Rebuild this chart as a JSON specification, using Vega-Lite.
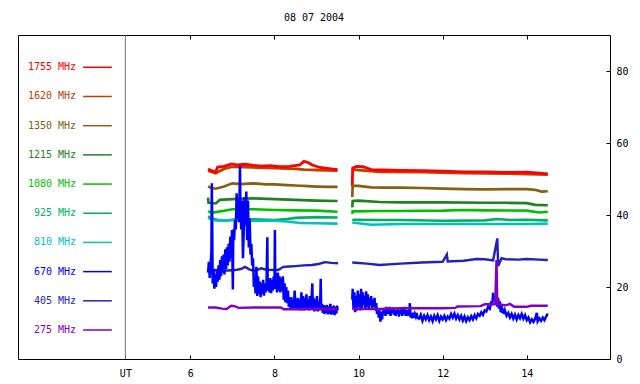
{
"$schema": "https://vega.github.io/schema/vega-lite/v6.json",
"width": 592, "height": 324,
"autosize": {"type": "none"},
"padding": {"left": 18, "top": 35, "right": 30, "bottom": 25},
"background": "white",
"title": {"text": "08 07 2004", "font": "DejaVu Sans Mono", "fontSize": 10, "fontWeight": "normal", "color": "black", "anchor": "middle", "offset": 3.5, "baseline": "alphabetic"},
"config": {"view": {"stroke": "black", "strokeWidth": 1}, "font": "DejaVu Sans Mono"},
"datasets": {
"series": [
{"s":1620,"g":1,"t":6.42,"v":52.3},{"s":1620,"g":1,"t":6.6,"v":51.6},{"s":1620,"g":1,"t":6.8,"v":52.8},{"s":1620,"g":1,"t":7.0,"v":53.4},{"s":1620,"g":1,"t":7.5,"v":53.2},{"s":1620,"g":1,"t":8.0,"v":53.0},{"s":1620,"g":1,"t":8.5,"v":52.8},{"s":1620,"g":1,"t":8.7,"v":52.6},{"s":1620,"g":1,"t":9.0,"v":52.5},{"s":1620,"g":1,"t":9.5,"v":52.3},
{"s":1620,"g":2,"t":9.86,"v":52.6},{"s":1620,"g":2,"t":10.5,"v":52.0},{"s":1620,"g":2,"t":11.5,"v":51.9},{"s":1620,"g":2,"t":12.5,"v":51.6},{"s":1620,"g":2,"t":13.5,"v":51.5},{"s":1620,"g":2,"t":14.5,"v":51.2},
{"s":1755,"g":1,"t":6.42,"v":52.8},{"s":1755,"g":1,"t":6.5,"v":52.3},{"s":1755,"g":1,"t":6.6,"v":52.0},{"s":1755,"g":1,"t":6.65,"v":53.3},{"s":1755,"g":1,"t":6.8,"v":53.5},{"s":1755,"g":1,"t":6.98,"v":54.2},{"s":1755,"g":1,"t":7.1,"v":53.9},{"s":1755,"g":1,"t":7.3,"v":54.1},{"s":1755,"g":1,"t":7.5,"v":53.8},{"s":1755,"g":1,"t":7.7,"v":53.6},{"s":1755,"g":1,"t":7.9,"v":53.7},{"s":1755,"g":1,"t":8.1,"v":53.4},{"s":1755,"g":1,"t":8.37,"v":53.5},{"s":1755,"g":1,"t":8.6,"v":53.9},{"s":1755,"g":1,"t":8.7,"v":54.9},{"s":1755,"g":1,"t":8.8,"v":54.6},{"s":1755,"g":1,"t":8.9,"v":53.9},{"s":1755,"g":1,"t":9.08,"v":53.2},{"s":1755,"g":1,"t":9.3,"v":52.9},{"s":1755,"g":1,"t":9.5,"v":52.6},
{"s":1755,"g":2,"t":9.85,"v":48.0},{"s":1755,"g":2,"t":9.86,"v":53.0},{"s":1755,"g":2,"t":9.95,"v":53.5},{"s":1755,"g":2,"t":10.1,"v":53.4},{"s":1755,"g":2,"t":10.3,"v":52.6},{"s":1755,"g":2,"t":10.6,"v":52.5},{"s":1755,"g":2,"t":11.0,"v":52.4},{"s":1755,"g":2,"t":11.5,"v":52.3},{"s":1755,"g":2,"t":12.0,"v":52.2},{"s":1755,"g":2,"t":12.5,"v":52.0},{"s":1755,"g":2,"t":13.0,"v":52.0},{"s":1755,"g":2,"t":13.5,"v":51.8},{"s":1755,"g":2,"t":14.0,"v":51.9},{"s":1755,"g":2,"t":14.3,"v":51.6},{"s":1755,"g":2,"t":14.5,"v":51.4},
{"s":1350,"g":1,"t":6.42,"v":47.9},{"s":1350,"g":1,"t":6.5,"v":47.5},{"s":1350,"g":1,"t":6.6,"v":47.3},{"s":1350,"g":1,"t":6.8,"v":47.9},{"s":1350,"g":1,"t":7.0,"v":48.8},{"s":1350,"g":1,"t":7.2,"v":48.6},{"s":1350,"g":1,"t":7.5,"v":48.8},{"s":1350,"g":1,"t":7.8,"v":48.5},{"s":1350,"g":1,"t":8.0,"v":48.5},{"s":1350,"g":1,"t":8.3,"v":48.3},{"s":1350,"g":1,"t":8.5,"v":48.2},{"s":1350,"g":1,"t":8.8,"v":48.0},{"s":1350,"g":1,"t":9.0,"v":47.9},{"s":1350,"g":1,"t":9.3,"v":47.8},{"s":1350,"g":1,"t":9.5,"v":47.8},
{"s":1350,"g":2,"t":9.85,"v":45.0},{"s":1350,"g":2,"t":9.86,"v":48.1},{"s":1350,"g":2,"t":10.0,"v":48.1},{"s":1350,"g":2,"t":10.3,"v":47.7},{"s":1350,"g":2,"t":10.6,"v":47.6},{"s":1350,"g":2,"t":11.0,"v":47.6},{"s":1350,"g":2,"t":11.5,"v":47.5},{"s":1350,"g":2,"t":12.0,"v":47.3},{"s":1350,"g":2,"t":12.5,"v":47.2},{"s":1350,"g":2,"t":13.0,"v":47.1},{"s":1350,"g":2,"t":13.5,"v":47.2},{"s":1350,"g":2,"t":14.0,"v":47.2},{"s":1350,"g":2,"t":14.2,"v":47.0},{"s":1350,"g":2,"t":14.35,"v":46.5},{"s":1350,"g":2,"t":14.5,"v":46.6},
{"s":1215,"g":1,"t":6.42,"v":44.8},{"s":1215,"g":1,"t":6.43,"v":43.4},{"s":1215,"g":1,"t":6.6,"v":43.2},{"s":1215,"g":1,"t":6.7,"v":44.2},{"s":1215,"g":1,"t":7.0,"v":44.4},{"s":1215,"g":1,"t":7.5,"v":44.6},{"s":1215,"g":1,"t":8.0,"v":44.4},{"s":1215,"g":1,"t":8.5,"v":44.2},{"s":1215,"g":1,"t":9.0,"v":44.0},{"s":1215,"g":1,"t":9.5,"v":43.9},
{"s":1215,"g":2,"t":9.85,"v":42.1},{"s":1215,"g":2,"t":9.86,"v":43.9},{"s":1215,"g":2,"t":10.0,"v":44.0},{"s":1215,"g":2,"t":10.5,"v":43.6},{"s":1215,"g":2,"t":11.0,"v":43.5},{"s":1215,"g":2,"t":12.0,"v":43.5},{"s":1215,"g":2,"t":13.0,"v":43.4},{"s":1215,"g":2,"t":13.5,"v":43.4},{"s":1215,"g":2,"t":14.0,"v":43.3},{"s":1215,"g":2,"t":14.2,"v":42.8},{"s":1215,"g":2,"t":14.5,"v":42.7},
{"s":1080,"g":1,"t":6.42,"v":41.1},{"s":1080,"g":1,"t":6.5,"v":40.6},{"s":1080,"g":1,"t":6.6,"v":40.8},{"s":1080,"g":1,"t":6.8,"v":41.2},{"s":1080,"g":1,"t":7.0,"v":41.6},{"s":1080,"g":1,"t":7.5,"v":41.6},{"s":1080,"g":1,"t":8.0,"v":41.4},{"s":1080,"g":1,"t":8.5,"v":41.3},{"s":1080,"g":1,"t":9.0,"v":41.2},{"s":1080,"g":1,"t":9.5,"v":40.9},
{"s":1080,"g":2,"t":9.85,"v":40.3},{"s":1080,"g":2,"t":9.86,"v":41.0},{"s":1080,"g":2,"t":10.5,"v":41.1},{"s":1080,"g":2,"t":11.0,"v":41.1},{"s":1080,"g":2,"t":12.0,"v":41.2},{"s":1080,"g":2,"t":12.5,"v":41.4},{"s":1080,"g":2,"t":13.0,"v":41.3},{"s":1080,"g":2,"t":14.0,"v":41.2},{"s":1080,"g":2,"t":14.3,"v":40.7},{"s":1080,"g":2,"t":14.5,"v":40.9},
{"s":925,"g":1,"t":6.42,"v":39.6},{"s":925,"g":1,"t":6.5,"v":39.1},{"s":925,"g":1,"t":6.7,"v":38.5},{"s":925,"g":1,"t":6.9,"v":38.5},{"s":925,"g":1,"t":7.0,"v":38.7},{"s":925,"g":1,"t":7.5,"v":38.8},{"s":925,"g":1,"t":8.0,"v":38.6},{"s":925,"g":1,"t":8.3,"v":38.9},{"s":925,"g":1,"t":8.5,"v":39.2},{"s":925,"g":1,"t":9.0,"v":39.4},{"s":925,"g":1,"t":9.5,"v":39.3},
{"s":925,"g":2,"t":9.85,"v":38.7},{"s":925,"g":2,"t":10.5,"v":38.6},{"s":925,"g":2,"t":11.0,"v":38.6},{"s":925,"g":2,"t":12.0,"v":38.4},{"s":925,"g":2,"t":13.0,"v":38.5},{"s":925,"g":2,"t":13.3,"v":38.9},{"s":925,"g":2,"t":13.6,"v":38.6},{"s":925,"g":2,"t":14.0,"v":38.7},{"s":925,"g":2,"t":14.5,"v":38.5},
{"s":810,"g":1,"t":6.42,"v":39.2},{"s":810,"g":1,"t":6.5,"v":38.8},{"s":810,"g":1,"t":6.6,"v":38.5},{"s":810,"g":1,"t":7.0,"v":38.6},{"s":810,"g":1,"t":7.5,"v":38.4},{"s":810,"g":1,"t":8.0,"v":38.4},{"s":810,"g":1,"t":8.3,"v":38.2},{"s":810,"g":1,"t":8.6,"v":37.8},{"s":810,"g":1,"t":9.0,"v":37.7},{"s":810,"g":1,"t":9.5,"v":37.6},
{"s":810,"g":2,"t":9.85,"v":37.9},{"s":810,"g":2,"t":10.3,"v":37.3},{"s":810,"g":2,"t":11.0,"v":37.5},{"s":810,"g":2,"t":12.0,"v":37.5},{"s":810,"g":2,"t":13.0,"v":37.5},{"s":810,"g":2,"t":14.0,"v":37.5},{"s":810,"g":2,"t":14.5,"v":37.6},
{"s":405,"g":1,"t":6.42,"v":24.3},{"s":405,"g":1,"t":6.5,"v":24.6},{"s":405,"g":1,"t":6.58,"v":24.7},{"s":405,"g":1,"t":6.8,"v":24.5},{"s":405,"g":1,"t":7.06,"v":24.7},{"s":405,"g":1,"t":7.2,"v":25.0},{"s":405,"g":1,"t":7.3,"v":25.6},{"s":405,"g":1,"t":7.4,"v":24.9},{"s":405,"g":1,"t":7.5,"v":24.5},{"s":405,"g":1,"t":7.6,"v":24.8},{"s":405,"g":1,"t":7.69,"v":25.2},{"s":405,"g":1,"t":7.8,"v":24.8},{"s":405,"g":1,"t":8.09,"v":24.7},{"s":405,"g":1,"t":8.21,"v":25.6},{"s":405,"g":1,"t":8.35,"v":25.7},{"s":405,"g":1,"t":8.49,"v":25.8},{"s":405,"g":1,"t":8.7,"v":26.0},{"s":405,"g":1,"t":8.89,"v":26.1},{"s":405,"g":1,"t":9.05,"v":26.4},{"s":405,"g":1,"t":9.2,"v":26.9},{"s":405,"g":1,"t":9.35,"v":26.7},{"s":405,"g":1,"t":9.51,"v":26.6},
{"s":405,"g":2,"t":9.85,"v":26.8},{"s":405,"g":2,"t":10.2,"v":26.5},{"s":405,"g":2,"t":10.5,"v":26.1},{"s":405,"g":2,"t":11.0,"v":26.5},{"s":405,"g":2,"t":11.5,"v":26.8},{"s":405,"g":2,"t":12.0,"v":27.0},{"s":405,"g":2,"t":12.1,"v":29.0},{"s":405,"g":2,"t":12.12,"v":27.1},{"s":405,"g":2,"t":12.5,"v":27.3},{"s":405,"g":2,"t":12.8,"v":27.8},{"s":405,"g":2,"t":13.0,"v":27.7},{"s":405,"g":2,"t":13.2,"v":27.4},{"s":405,"g":2,"t":13.3,"v":33.5},{"s":405,"g":2,"t":13.32,"v":25.8},{"s":405,"g":2,"t":13.4,"v":28.0},{"s":405,"g":2,"t":13.5,"v":27.7},{"s":405,"g":2,"t":13.8,"v":27.6},{"s":405,"g":2,"t":14.0,"v":27.8},{"s":405,"g":2,"t":14.3,"v":27.6},{"s":405,"g":2,"t":14.5,"v":27.5},
{"s":670,"g":1,"t":6.42,"v":24},{"s":670,"g":1,"t":6.44,"v":27},{"s":670,"g":1,"t":6.46,"v":22.5},{"s":670,"g":1,"t":6.48,"v":26},{"s":670,"g":1,"t":6.5,"v":30},{"s":670,"g":1,"t":6.51,"v":48.8},{"s":670,"g":1,"t":6.52,"v":36},{"s":670,"g":1,"t":6.53,"v":21},{"s":670,"g":1,"t":6.55,"v":25},{"s":670,"g":1,"t":6.57,"v":19.5},{"s":670,"g":1,"t":6.59,"v":23.5},{"s":670,"g":1,"t":6.61,"v":20},{"s":670,"g":1,"t":6.63,"v":24.5},{"s":670,"g":1,"t":6.65,"v":21.5},{"s":670,"g":1,"t":6.67,"v":26},{"s":670,"g":1,"t":6.69,"v":22},{"s":670,"g":1,"t":6.71,"v":27.5},{"s":670,"g":1,"t":6.73,"v":23},{"s":670,"g":1,"t":6.75,"v":28.5},{"s":670,"g":1,"t":6.77,"v":24},{"s":670,"g":1,"t":6.79,"v":29},{"s":670,"g":1,"t":6.81,"v":23.5},{"s":670,"g":1,"t":6.83,"v":30.5},{"s":670,"g":1,"t":6.85,"v":25},{"s":670,"g":1,"t":6.87,"v":31},{"s":670,"g":1,"t":6.89,"v":26},{"s":670,"g":1,"t":6.91,"v":32},{"s":670,"g":1,"t":6.93,"v":27},{"s":670,"g":1,"t":6.95,"v":34},{"s":670,"g":1,"t":6.97,"v":28},{"s":670,"g":1,"t":6.99,"v":35.8},{"s":670,"g":1,"t":7.01,"v":19.3},{"s":670,"g":1,"t":7.02,"v":36},{"s":670,"g":1,"t":7.04,"v":33},{"s":670,"g":1,"t":7.06,"v":38.6},{"s":670,"g":1,"t":7.08,"v":36},{"s":670,"g":1,"t":7.1,"v":46},{"s":670,"g":1,"t":7.12,"v":39},{"s":670,"g":1,"t":7.14,"v":44},{"s":670,"g":1,"t":7.16,"v":38},{"s":670,"g":1,"t":7.18,"v":53.6},{"s":670,"g":1,"t":7.19,"v":42},{"s":670,"g":1,"t":7.21,"v":36},{"s":670,"g":1,"t":7.23,"v":44},{"s":670,"g":1,"t":7.25,"v":28},{"s":670,"g":1,"t":7.27,"v":36},{"s":670,"g":1,"t":7.29,"v":45},{"s":670,"g":1,"t":7.31,"v":37},{"s":670,"g":1,"t":7.33,"v":46.5},{"s":670,"g":1,"t":7.35,"v":33},{"s":670,"g":1,"t":7.37,"v":44},{"s":670,"g":1,"t":7.39,"v":31},{"s":670,"g":1,"t":7.41,"v":39},{"s":670,"g":1,"t":7.43,"v":29},{"s":670,"g":1,"t":7.45,"v":32},{"s":670,"g":1,"t":7.47,"v":26},{"s":670,"g":1,"t":7.49,"v":28},{"s":670,"g":1,"t":7.51,"v":20},{"s":670,"g":1,"t":7.53,"v":22.5},{"s":670,"g":1,"t":7.55,"v":18.2},{"s":670,"g":1,"t":7.57,"v":25.6},{"s":670,"g":1,"t":7.59,"v":17.5},{"s":670,"g":1,"t":7.61,"v":23},{"s":670,"g":1,"t":7.63,"v":18},{"s":670,"g":1,"t":7.65,"v":21.5},{"s":670,"g":1,"t":7.67,"v":17.2},{"s":670,"g":1,"t":7.69,"v":21},{"s":670,"g":1,"t":7.71,"v":18},{"s":670,"g":1,"t":7.73,"v":22},{"s":670,"g":1,"t":7.75,"v":17.6},{"s":670,"g":1,"t":7.77,"v":21},{"s":670,"g":1,"t":7.79,"v":18.5},{"s":670,"g":1,"t":7.81,"v":20.5},{"s":670,"g":1,"t":7.83,"v":33.8},{"s":670,"g":1,"t":7.84,"v":19},{"s":670,"g":1,"t":7.86,"v":21.5},{"s":670,"g":1,"t":7.88,"v":18.5},{"s":670,"g":1,"t":7.9,"v":22.5},{"s":670,"g":1,"t":7.92,"v":18.3},{"s":670,"g":1,"t":7.94,"v":22},{"s":670,"g":1,"t":7.96,"v":19},{"s":670,"g":1,"t":7.98,"v":22.9},{"s":670,"g":1,"t":8.0,"v":19.5},{"s":670,"g":1,"t":8.01,"v":35.8},{"s":670,"g":1,"t":8.02,"v":20},{"s":670,"g":1,"t":8.04,"v":23.5},{"s":670,"g":1,"t":8.06,"v":18.5},{"s":670,"g":1,"t":8.08,"v":24},{"s":670,"g":1,"t":8.1,"v":19},{"s":670,"g":1,"t":8.12,"v":23},{"s":670,"g":1,"t":8.14,"v":18.5},{"s":670,"g":1,"t":8.16,"v":22.5},{"s":670,"g":1,"t":8.18,"v":19},{"s":670,"g":1,"t":8.2,"v":23},{"s":670,"g":1,"t":8.22,"v":16.5},{"s":670,"g":1,"t":8.24,"v":21},{"s":670,"g":1,"t":8.26,"v":15.8},{"s":670,"g":1,"t":8.28,"v":20},{"s":670,"g":1,"t":8.3,"v":15.5},{"s":670,"g":1,"t":8.32,"v":19},{"s":670,"g":1,"t":8.34,"v":14.5},{"s":670,"g":1,"t":8.36,"v":17},{"s":670,"g":1,"t":8.38,"v":14},{"s":670,"g":1,"t":8.4,"v":17.2},{"s":670,"g":1,"t":8.42,"v":13.8},{"s":670,"g":1,"t":8.44,"v":16.5},{"s":670,"g":1,"t":8.46,"v":14.2},{"s":670,"g":1,"t":8.48,"v":19},{"s":670,"g":1,"t":8.5,"v":14},{"s":670,"g":1,"t":8.52,"v":16.8},{"s":670,"g":1,"t":8.54,"v":13.8},{"s":670,"g":1,"t":8.56,"v":17},{"s":670,"g":1,"t":8.58,"v":14.2},{"s":670,"g":1,"t":8.6,"v":16.5},{"s":670,"g":1,"t":8.62,"v":13.5},{"s":670,"g":1,"t":8.64,"v":18.5},{"s":670,"g":1,"t":8.66,"v":14},{"s":670,"g":1,"t":8.68,"v":17.5},{"s":670,"g":1,"t":8.7,"v":13.5},{"s":670,"g":1,"t":8.72,"v":17},{"s":670,"g":1,"t":8.74,"v":14},{"s":670,"g":1,"t":8.76,"v":18},{"s":670,"g":1,"t":8.78,"v":13.8},{"s":670,"g":1,"t":8.8,"v":16.5},{"s":670,"g":1,"t":8.82,"v":13.5},{"s":670,"g":1,"t":8.84,"v":17.5},{"s":670,"g":1,"t":8.86,"v":14},{"s":670,"g":1,"t":8.88,"v":16},{"s":670,"g":1,"t":8.9,"v":21},{"s":670,"g":1,"t":8.91,"v":14},{"s":670,"g":1,"t":8.93,"v":17},{"s":670,"g":1,"t":8.95,"v":13.2},{"s":670,"g":1,"t":8.97,"v":16.5},{"s":670,"g":1,"t":8.99,"v":13.5},{"s":670,"g":1,"t":9.01,"v":17.5},{"s":670,"g":1,"t":9.03,"v":13.2},{"s":670,"g":1,"t":9.05,"v":16},{"s":670,"g":1,"t":9.07,"v":13.5},{"s":670,"g":1,"t":9.09,"v":17},{"s":670,"g":1,"t":9.1,"v":22.3},{"s":670,"g":1,"t":9.11,"v":14},{"s":670,"g":1,"t":9.13,"v":15.3},{"s":670,"g":1,"t":9.15,"v":12.8},{"s":670,"g":1,"t":9.17,"v":15},{"s":670,"g":1,"t":9.19,"v":12.5},{"s":670,"g":1,"t":9.21,"v":14.8},{"s":670,"g":1,"t":9.23,"v":12.8},{"s":670,"g":1,"t":9.25,"v":15},{"s":670,"g":1,"t":9.27,"v":12.4},{"s":670,"g":1,"t":9.29,"v":14.5},{"s":670,"g":1,"t":9.31,"v":12.6},{"s":670,"g":1,"t":9.33,"v":15.3},{"s":670,"g":1,"t":9.35,"v":12.3},{"s":670,"g":1,"t":9.37,"v":14.5},{"s":670,"g":1,"t":9.39,"v":12.5},{"s":670,"g":1,"t":9.41,"v":14.8},{"s":670,"g":1,"t":9.43,"v":12.2},{"s":670,"g":1,"t":9.45,"v":14.5},{"s":670,"g":1,"t":9.47,"v":12.6},{"s":670,"g":1,"t":9.49,"v":14.8},{"s":670,"g":1,"t":9.5,"v":13.5},
{"s":670,"g":2,"t":9.85,"v":16.5},{"s":670,"g":2,"t":9.86,"v":19.5},{"s":670,"g":2,"t":9.88,"v":14},{"s":670,"g":2,"t":9.9,"v":18.5},{"s":670,"g":2,"t":9.92,"v":13},{"s":670,"g":2,"t":9.94,"v":17.5},{"s":670,"g":2,"t":9.96,"v":13.5},{"s":670,"g":2,"t":9.98,"v":19},{"s":670,"g":2,"t":10.0,"v":14.5},{"s":670,"g":2,"t":10.02,"v":18},{"s":670,"g":2,"t":10.04,"v":13.5},{"s":670,"g":2,"t":10.06,"v":19.5},{"s":670,"g":2,"t":10.08,"v":14},{"s":670,"g":2,"t":10.1,"v":18.5},{"s":670,"g":2,"t":10.12,"v":15},{"s":670,"g":2,"t":10.14,"v":17.5},{"s":670,"g":2,"t":10.16,"v":14},{"s":670,"g":2,"t":10.18,"v":18.8},{"s":670,"g":2,"t":10.2,"v":14.5},{"s":670,"g":2,"t":10.22,"v":18},{"s":670,"g":2,"t":10.24,"v":14},{"s":670,"g":2,"t":10.26,"v":17},{"s":670,"g":2,"t":10.28,"v":15},{"s":670,"g":2,"t":10.3,"v":17.5},{"s":670,"g":2,"t":10.32,"v":14},{"s":670,"g":2,"t":10.34,"v":16.5},{"s":670,"g":2,"t":10.36,"v":14.5},{"s":670,"g":2,"t":10.38,"v":17},{"s":670,"g":2,"t":10.4,"v":13.5},{"s":670,"g":2,"t":10.42,"v":15.5},{"s":670,"g":2,"t":10.44,"v":12.5},{"s":670,"g":2,"t":10.46,"v":14},{"s":670,"g":2,"t":10.48,"v":11.5},{"s":670,"g":2,"t":10.5,"v":13.5},{"s":670,"g":2,"t":10.52,"v":10.4},{"s":670,"g":2,"t":10.54,"v":13},{"s":670,"g":2,"t":10.56,"v":11},{"s":670,"g":2,"t":10.58,"v":13.5},{"s":670,"g":2,"t":10.6,"v":12.5},{"s":670,"g":2,"t":10.62,"v":14},{"s":670,"g":2,"t":10.64,"v":12},{"s":670,"g":2,"t":10.66,"v":14.5},{"s":670,"g":2,"t":10.68,"v":12.5},{"s":670,"g":2,"t":10.7,"v":14},{"s":670,"g":2,"t":10.72,"v":12.5},{"s":670,"g":2,"t":10.74,"v":14.5},{"s":670,"g":2,"t":10.76,"v":12},{"s":670,"g":2,"t":10.78,"v":14},{"s":670,"g":2,"t":10.8,"v":12.8},{"s":670,"g":2,"t":10.82,"v":14.3},{"s":670,"g":2,"t":10.84,"v":12.3},{"s":670,"g":2,"t":10.86,"v":13.8},{"s":670,"g":2,"t":10.88,"v":12},{"s":670,"g":2,"t":10.9,"v":13.5},{"s":670,"g":2,"t":10.92,"v":12.5},{"s":670,"g":2,"t":10.94,"v":14},{"s":670,"g":2,"t":10.96,"v":11.8},{"s":670,"g":2,"t":10.98,"v":13.5},{"s":670,"g":2,"t":11.0,"v":12.5},{"s":670,"g":2,"t":11.02,"v":13.8},{"s":670,"g":2,"t":11.04,"v":12},{"s":670,"g":2,"t":11.06,"v":14},{"s":670,"g":2,"t":11.08,"v":12.5},{"s":670,"g":2,"t":11.1,"v":14.5},{"s":670,"g":2,"t":11.12,"v":12},{"s":670,"g":2,"t":11.14,"v":13.5},{"s":670,"g":2,"t":11.16,"v":12.8},{"s":670,"g":2,"t":11.18,"v":13.5},{"s":670,"g":2,"t":11.2,"v":12},{"s":670,"g":2,"t":11.22,"v":15.5},{"s":670,"g":2,"t":11.24,"v":11.5},{"s":670,"g":2,"t":11.26,"v":12.8},{"s":670,"g":2,"t":11.28,"v":11.3},{"s":670,"g":2,"t":11.3,"v":12.9},{"s":670,"g":2,"t":11.32,"v":11.5},{"s":670,"g":2,"t":11.34,"v":12.5},{"s":670,"g":2,"t":11.36,"v":11.8},{"s":670,"g":2,"t":11.38,"v":12.8},{"s":670,"g":2,"t":11.4,"v":11.5},{"s":670,"g":2,"t":11.44,"v":11.2},{"s":670,"g":2,"t":11.48,"v":12.3},{"s":670,"g":2,"t":11.52,"v":10.6},{"s":670,"g":2,"t":11.56,"v":12},{"s":670,"g":2,"t":11.6,"v":11},{"s":670,"g":2,"t":11.64,"v":12.2},{"s":670,"g":2,"t":11.68,"v":10.8},{"s":670,"g":2,"t":11.72,"v":11.8},{"s":670,"g":2,"t":11.76,"v":10.5},{"s":670,"g":2,"t":11.8,"v":12},{"s":670,"g":2,"t":11.84,"v":11},{"s":670,"g":2,"t":11.88,"v":12.2},{"s":670,"g":2,"t":11.92,"v":10.6},{"s":670,"g":2,"t":11.96,"v":11.8},{"s":670,"g":2,"t":12.0,"v":11},{"s":670,"g":2,"t":12.04,"v":12},{"s":670,"g":2,"t":12.08,"v":10.8},{"s":670,"g":2,"t":12.12,"v":11.8},{"s":670,"g":2,"t":12.16,"v":11.2},{"s":670,"g":2,"t":12.2,"v":12.5},{"s":670,"g":2,"t":12.24,"v":11.5},{"s":670,"g":2,"t":12.28,"v":12.6},{"s":670,"g":2,"t":12.32,"v":11.2},{"s":670,"g":2,"t":12.36,"v":12.2},{"s":670,"g":2,"t":12.4,"v":11},{"s":670,"g":2,"t":12.44,"v":12},{"s":670,"g":2,"t":12.48,"v":10.7},{"s":670,"g":2,"t":12.52,"v":11.8},{"s":670,"g":2,"t":12.56,"v":10.5},{"s":670,"g":2,"t":12.6,"v":11.6},{"s":670,"g":2,"t":12.64,"v":10.8},{"s":670,"g":2,"t":12.68,"v":11.9},{"s":670,"g":2,"t":12.72,"v":11},{"s":670,"g":2,"t":12.76,"v":12.2},{"s":670,"g":2,"t":12.8,"v":11.3},{"s":670,"g":2,"t":12.84,"v":12.5},{"s":670,"g":2,"t":12.88,"v":12},{"s":670,"g":2,"t":12.92,"v":13},{"s":670,"g":2,"t":12.96,"v":12.3},{"s":670,"g":2,"t":13.0,"v":13.5},{"s":670,"g":2,"t":13.04,"v":13.2},{"s":670,"g":2,"t":13.08,"v":14.5},{"s":670,"g":2,"t":13.12,"v":14},{"s":670,"g":2,"t":13.16,"v":16},{"s":670,"g":2,"t":13.18,"v":15},{"s":670,"g":2,"t":13.2,"v":18.4},{"s":670,"g":2,"t":13.22,"v":16},{"s":670,"g":2,"t":13.24,"v":17.5},{"s":670,"g":2,"t":13.26,"v":15},{"s":670,"g":2,"t":13.28,"v":18.6},{"s":670,"g":2,"t":13.3,"v":14.5},{"s":670,"g":2,"t":13.32,"v":17},{"s":670,"g":2,"t":13.34,"v":14},{"s":670,"g":2,"t":13.36,"v":16},{"s":670,"g":2,"t":13.38,"v":13},{"s":670,"g":2,"t":13.4,"v":15},{"s":670,"g":2,"t":13.42,"v":12.8},{"s":670,"g":2,"t":13.44,"v":14},{"s":670,"g":2,"t":13.46,"v":12.5},{"s":670,"g":2,"t":13.48,"v":13.5},{"s":670,"g":2,"t":13.52,"v":12},{"s":670,"g":2,"t":13.56,"v":12.8},{"s":670,"g":2,"t":13.6,"v":11.5},{"s":670,"g":2,"t":13.64,"v":12.5},{"s":670,"g":2,"t":13.68,"v":11.2},{"s":670,"g":2,"t":13.72,"v":12.3},{"s":670,"g":2,"t":13.76,"v":11},{"s":670,"g":2,"t":13.8,"v":12.2},{"s":670,"g":2,"t":13.84,"v":11.3},{"s":670,"g":2,"t":13.88,"v":12.5},{"s":670,"g":2,"t":13.92,"v":11.2},{"s":670,"g":2,"t":13.96,"v":12.2},{"s":670,"g":2,"t":14.0,"v":10.8},{"s":670,"g":2,"t":14.04,"v":11.5},{"s":670,"g":2,"t":14.08,"v":10.2},{"s":670,"g":2,"t":14.12,"v":11},{"s":670,"g":2,"t":14.16,"v":10.3},{"s":670,"g":2,"t":14.2,"v":11.2},{"s":670,"g":2,"t":14.24,"v":12.8},{"s":670,"g":2,"t":14.26,"v":10.5},{"s":670,"g":2,"t":14.3,"v":11.3},{"s":670,"g":2,"t":14.34,"v":10.6},{"s":670,"g":2,"t":14.38,"v":11.5},{"s":670,"g":2,"t":14.42,"v":10.8},{"s":670,"g":2,"t":14.46,"v":11.8},{"s":670,"g":2,"t":14.5,"v":12.6},
{"s":275,"g":1,"t":6.42,"v":14.3},{"s":275,"g":1,"t":6.6,"v":14.3},{"s":275,"g":1,"t":6.75,"v":14.0},{"s":275,"g":1,"t":6.86,"v":13.9},{"s":275,"g":1,"t":6.97,"v":14.8},{"s":275,"g":1,"t":7.05,"v":14.7},{"s":275,"g":1,"t":7.15,"v":14.2},{"s":275,"g":1,"t":7.5,"v":14.3},{"s":275,"g":1,"t":7.9,"v":14.3},{"s":275,"g":1,"t":8.15,"v":14.3},{"s":275,"g":1,"t":8.22,"v":13.8},{"s":275,"g":1,"t":8.6,"v":13.8},{"s":275,"g":1,"t":9.0,"v":13.9},{"s":275,"g":1,"t":9.5,"v":13.9},
{"s":275,"g":2,"t":9.85,"v":13.9},{"s":275,"g":2,"t":10.5,"v":13.9},{"s":275,"g":2,"t":11.0,"v":14.1},{"s":275,"g":2,"t":12.0,"v":14.1},{"s":275,"g":2,"t":12.3,"v":14.2},{"s":275,"g":2,"t":12.35,"v":14.6},{"s":275,"g":2,"t":12.9,"v":14.7},{"s":275,"g":2,"t":13.0,"v":15.2},{"s":275,"g":2,"t":13.25,"v":15.2},{"s":275,"g":2,"t":13.28,"v":27.5},{"s":275,"g":2,"t":13.3,"v":15.3},{"s":275,"g":2,"t":13.5,"v":14.9},{"s":275,"g":2,"t":13.6,"v":15.3},{"s":275,"g":2,"t":13.7,"v":14.5},{"s":275,"g":2,"t":14.0,"v":14.5},{"s":275,"g":2,"t":14.1,"v":14.8},{"s":275,"g":2,"t":14.5,"v":14.8}
],
"legend": [
{"s":1755,"label":"1755 MHz"},{"s":1620,"label":"1620 MHz"},{"s":1350,"label":"1350 MHz"},{"s":1215,"label":"1215 MHz"},{"s":1080,"label":"1080 MHz"},{"s":925,"label":"925 MHz"},{"s":810,"label":"810 MHz"},{"s":670,"label":"670 MHz"},{"s":405,"label":"405 MHz"},{"s":275,"label":"275 MHz"}
]
},
"resolve": {"scale": {"y": "independent"}, "axis": {"x": "independent", "y": "independent"}},
"layer": [
{
"data": {"values": [{}]},
"mark": {"type": "rule", "color": "#707070", "strokeWidth": 1},
"encoding": {
"x": {"datum": 4.454, "type": "quantitative",
"scale": {"domain": [1.9, 15.98], "nice": false, "zero": false},
"axis": {"orient": "top", "values": [6, 8, 10, 12, 14], "labels": false, "tickSize": -4, "tickColor": "black", "domain": false, "grid": false, "title": null}}
}
},
{
"data": {"name": "series"},
"mark": {"type": "line", "interpolate": "linear"},
"encoding": {
"x": {"field": "t", "type": "quantitative",
"scale": {"domain": [1.9, 15.98], "nice": false, "zero": false},
"axis": {"orient": "bottom", "values": [4.454, 6, 8, 10, 12, 14], "format": "d", "labelExpr": "datum.value < 5 ? 'UT' : datum.label", "tickSize": -4, "tickColor": "black", "labelPadding": 13, "labelFont": "DejaVu Sans Mono", "labelFontSize": 10, "labelColor": "black", "labelFlush": false, "domain": false, "grid": false, "title": null}},
"y": {"field": "v", "type": "quantitative",
"scale": {"domain": [0, 90], "nice": false, "zero": false},
"axis": {"orient": "right", "values": [0, 20, 40, 60, 80], "tickSize": -4, "tickColor": "black", "labelPadding": 10, "labelFont": "DejaVu Sans Mono", "labelFontSize": 10, "labelColor": "black", "labelFlush": false, "domain": false, "grid": false, "title": null}},
"color": {"field": "s", "type": "nominal",
"scale": {"domain": [1755, 1620, 1350, 1215, 1080, 925, 810, 670, 405, 275], "range": ["#ff0000", "#c04000", "#866010", "#228022", "#00c000", "#00b060", "#00c0c0", "#0000ff", "#2222bb", "#8000c0"]},
"legend": null},
"strokeWidth": {"field": "s", "type": "nominal",
"scale": {"domain": [1755, 1620, 1350, 1215, 1080, 925, 810, 670, 405, 275], "range": [2.8, 2.4, 2.8, 2.6, 2.6, 2.4, 2.0, 1.4, 1.6, 1.6]},
"legend": null},
"detail": {"field": "g", "type": "nominal"}
}
},
{
"data": {"name": "legend"},
"mark": {"type": "rule", "strokeWidth": 1.5},
"encoding": {
"x": {"datum": 3.448, "type": "quantitative", "axis": null},
"x2": {"datum": 4.131},
"y": {"field": "s", "type": "ordinal", "scale": {"type": "point", "padding": 0, "domain": [1755, 1620, 1350, 1215, 1080, 925, 810, 670, 405, 275], "range": [32.3, 295]}, "axis": null},
"color": {"field": "s", "type": "nominal", "legend": null}
}
},
{
"data": {"name": "legend"},
"mark": {"type": "text", "align": "right", "baseline": "middle", "font": "DejaVu Sans Mono", "fontSize": 10},
"encoding": {
"x": {"datum": 3.282, "type": "quantitative", "axis": null},
"y": {"field": "s", "type": "ordinal", "scale": {"type": "point", "padding": 0, "domain": [1755, 1620, 1350, 1215, 1080, 925, 810, 670, 405, 275], "range": [32.3, 295]}, "axis": null},
"text": {"field": "label"},
"color": {"field": "s", "type": "nominal", "legend": null}
}
}
]
}
